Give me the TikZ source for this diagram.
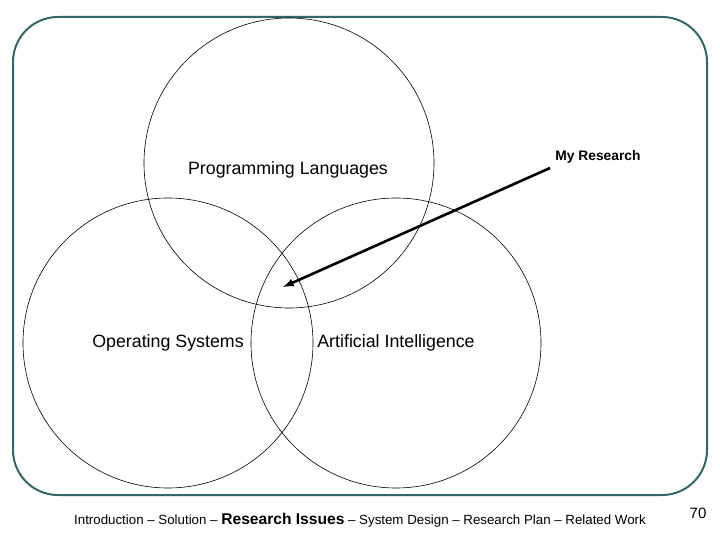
\documentclass[tikz,border=0pt]{standalone}
\usepackage{fontspec}
\setmainfont{Liberation Sans}
\definecolor{frame}{HTML}{336666}
\begin{document}
\begin{tikzpicture}[x=1pt,y=-1pt,
  circ/.style={draw=black,line width=0.6pt},
  lbl/.style={font=\fontsize{17.8}{20}\selectfont,inner sep=0pt},
  foot/.style={font=\fontsize{13.3}{15}\selectfont,inner sep=0pt}]
\useasboundingbox (0,0) rectangle (720,540);
\draw[frame,line width=2pt,rounded corners=45pt] (13,17) rectangle (707,495);
\node[circ,circle,minimum size=290pt,inner sep=0pt] (pl) at (289,163) {};
\node[circ,circle,minimum size=290pt,inner sep=0pt] (os) at (168,343) {};
\node[circ,circle,minimum size=290pt,inner sep=0pt] (ai) at (396,343) {};
\node[lbl] (plt) at (288,170) {Programming Languages};
\node[lbl] (ost) at (168,343) {Operating Systems};
\node[lbl] (ait) at (396,343) {Artificial Intelligence};
\node[font=\fontsize{13.8}{15}\selectfont\bfseries,inner sep=0pt] (mr) at (598,157) {My Research};
\coordinate (tip) at (283,287);
\draw[line width=2.6pt,-latex] (550,168) -- (tip);
\node[foot] (ft) at (360,520) {Introduction -- Solution -- {\fontsize{15.6}{18}\selectfont\bfseries Research Issues} -- System Design -- Research Plan -- Related Work};
\node[foot,font=\fontsize{15}{17}\selectfont] (pg) at (698,513) {70};
\end{tikzpicture}
\end{document}
